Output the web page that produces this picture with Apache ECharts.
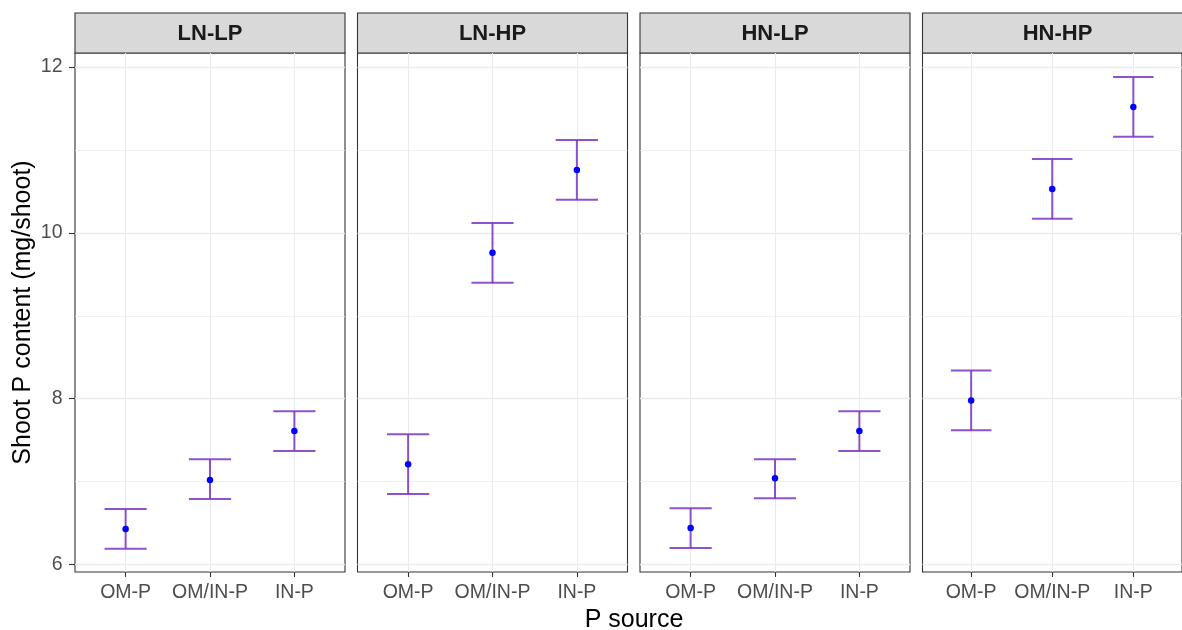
<!DOCTYPE html>
<html>
<head>
<meta charset="utf-8">
<script src="https://cdn.jsdelivr.net/npm/echarts@6/dist/echarts.min.js"></script>
<style>
  html, body { margin: 0; padding: 0; background: #fff; }
  #chart { width: 1182px; height: 630px; }
</style>
</head>
<body>
<div id="chart"></div>
<script>
const panels = ['LN-LP', 'LN-HP', 'HN-LP', 'HN-HP'];
const sources = ['OM-P', 'OM/IN-P', 'IN-P'];
const yTicks = [6, 8, 10, 12];
const yMinorTicks = [7, 9, 11];
const xTicks = [1, 2, 3];

// per panel, in the order of sources
const means = [
  [6.43, 7.02, 7.61],
  [7.21, 9.76, 10.76],
  [6.44, 7.04, 7.61],
  [7.98, 10.53, 11.52]
];
const lows = [
  [6.19, 6.79, 7.37],
  [6.85, 9.40, 10.40],
  [6.20, 6.80, 7.37],
  [7.62, 10.17, 11.16]
];
const highs = [
  [6.67, 7.27, 7.85],
  [7.57, 10.12, 11.12],
  [6.68, 7.27, 7.85],
  [8.34, 10.89, 11.88]
];

const FONT = '"Liberation Sans", Arial, sans-serif';
const barColor = 'rgba(122, 52, 200, 0.85)';
const gridLefts = [75, 357.5, 640, 922.5];
const panelW = 270;
const panelTop = 53;
const panelH = 519;
const yMin = 5.91, yMax = 12.17;

let myChart = echarts.init(document.getElementById('chart'));

let grids = [], xAxes = [], yAxes = [], series = [], graphics = [];

panels.forEach(function (name, p) {
  grids.push({
    left: gridLefts[p], top: panelTop, width: panelW, height: panelH,
    show: true, backgroundColor: '#fff', borderColor: '#333333', borderWidth: 1.1
  });

  xAxes.push({
    type: 'value', gridIndex: p, min: 0.4, max: 3.6,
    axisLine: { show: false },
    axisTick: { show: true, length: 5, customValues: xTicks, lineStyle: { color: '#333333', width: 1.1 } },
    axisLabel: {
      customValues: xTicks, margin: 11, color: '#4D4D4D', fontSize: 19.5, fontFamily: FONT,
      formatter: function (v) { return sources[v - 1]; }
    },
    splitLine: { show: true, lineStyle: { color: '#EBEBEB', width: 1.1 } }
  });

  // major y grid + labels
  yAxes.push({
    type: 'value', gridIndex: p, min: yMin, max: yMax, position: 'left',
    axisLine: { show: false },
    axisTick: { show: p === 0, length: 6, customValues: yTicks, lineStyle: { color: '#333333', width: 1.1 } },
    axisLabel: { show: p === 0, customValues: yTicks, margin: 12.5, color: '#4D4D4D', fontSize: 19.5, fontFamily: FONT },
    splitLine: { show: true, lineStyle: { color: '#EBEBEB', width: 1.3 } }
  });
  // minor y grid
  yAxes.push({
    type: 'value', gridIndex: p, min: yMin, max: yMax, position: 'left',
    axisLine: { show: false },
    axisTick: { show: false, customValues: yMinorTicks },
    axisLabel: { show: false, customValues: yMinorTicks },
    splitLine: { show: true, lineStyle: { color: '#EBEBEB', width: 0.7 } }
  });

  // error bars
  series.push({
    type: 'custom', xAxisIndex: p, yAxisIndex: p * 2,
    data: sources.map(function (s, i) { return [i + 1, lows[p][i], highs[p][i]]; }),
    renderItem: function (params, api) {
      let x = api.value(0);
      let top = api.coord([x, api.value(2)]);
      let bottom = api.coord([x, api.value(1)]);
      let half = api.size([0.25, 0])[0];
      let style = { stroke: barColor, lineWidth: 2 };
      return {
        type: 'group',
        children: [
          { type: 'line', shape: { x1: top[0], y1: top[1], x2: bottom[0], y2: bottom[1] }, style: style },
          { type: 'line', shape: { x1: top[0] - half, y1: top[1], x2: top[0] + half, y2: top[1] }, style: style },
          { type: 'line', shape: { x1: bottom[0] - half, y1: bottom[1], x2: bottom[0] + half, y2: bottom[1] }, style: style }
        ]
      };
    },
    z: 3
  });

  // means
  series.push({
    type: 'scatter', xAxisIndex: p, yAxisIndex: p * 2,
    symbol: 'circle', symbolSize: 6.5,
    itemStyle: { color: '#0000FF', opacity: 1 },
    data: sources.map(function (s, i) { return [i + 1, means[p][i]]; }),
    z: 4
  });

  // facet strip
  graphics.push({
    type: 'rect',
    shape: { x: gridLefts[p], y: 13, width: panelW, height: 40 },
    style: { fill: '#D9D9D9', stroke: '#333333', lineWidth: 1.1 }
  });
  graphics.push({
    type: 'text', x: gridLefts[p] + panelW / 2, y: 34,
    style: { text: name, font: 'bold 22px ' + FONT, fill: '#1A1A1A', align: 'center', verticalAlign: 'middle' }
  });
});

// axis titles
graphics.push({
  type: 'text', x: 23, y: panelTop + panelH / 2, rotation: Math.PI / 2,
  style: { text: 'Shoot P content (mg/shoot)', font: '25px ' + FONT, fill: '#000', align: 'center', verticalAlign: 'middle' }
});
graphics.push({
  type: 'text', x: 634, y: 620,
  style: { text: 'P source', font: '25px ' + FONT, fill: '#000', align: 'center', verticalAlign: 'middle' }
});

let option = {
  animation: false,
  backgroundColor: '#fff',
  grid: grids,
  xAxis: xAxes,
  yAxis: yAxes,
  series: series,
  graphic: graphics
};
myChart.setOption(option);
</script>
</body>
</html>
